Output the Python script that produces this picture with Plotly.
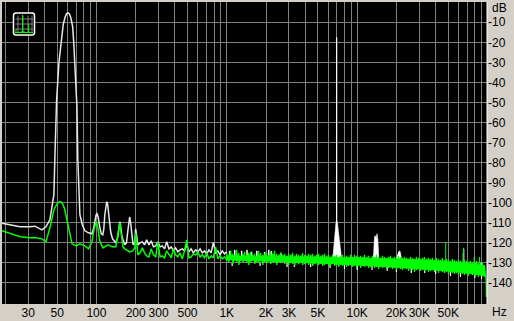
import plotly.graph_objects as go

W, H = 514, 321
L, R, T, B = 2, 487, 2, 304

grid_freqs = [20, 30, 40, 50, 60, 70, 80, 90, 100, 200, 300, 400, 500, 600, 700, 800, 900,
              1000, 2000, 3000, 4000, 5000, 6000, 7000, 8000, 9000,
              10000, 20000, 30000, 40000, 50000, 60000, 70000, 80000, 90000]
freq_labels = {30: "30", 50: "50", 100: "100", 200: "200", 300: "300", 500: "500", 1000: "1K",
               2000: "2K", 3000: "3K", 5000: "5K", 10000: "10K", 20000: "20K", 30000: "30K", 50000: "50K"}
db_ticks = [-10, -20, -30, -40, -50, -60, -70, -80, -90, -100, -110, -120, -130, -140]

low_white_f = [18.9, 21.7, 26, 30.9, 33.8, 38.2, 41, 44, 47.2, 48, 49.5, 51.6, 53.5, 55.7, 57.5, 59, 60.5, 62,
               63.5, 65.7, 67, 68.4, 70.9, 72, 74.7, 78, 81.6, 87, 92.4, 95, 97, 99.5, 101, 103, 106, 109, 112, 114, 116, 118.5, 120,
               122, 125, 129, 133, 141, 146, 149, 151, 153, 157, 165, 170, 175, 178, 180, 183, 187, 191, 197]
low_white_db = [-110.2, -111, -112, -112, -111.7, -113.5, -112, -108.5, -96, -78, -49, -30, -20, -11, -7.5, -5.8, -5.3, -5.8,
                -7.5, -12, -20, -30, -52, -78, -106, -111, -114, -115, -115.5, -113, -109, -106, -105.5, -107, -112, -115.5, -116, -113, -106, -100.5, -99.5,
                -101, -107, -115, -118, -120, -117, -111, -109.5, -111, -117, -121, -120, -113, -107.5, -107, -110, -118, -121, -120]

low_green_f = [18.9, 26, 30.9, 33.8, 38.2, 41, 44, 47.2, 50, 52, 53.5, 55, 57, 60, 62, 65, 70, 74.7, 81.6, 87, 92.4,
               96, 100, 103, 106, 112, 123, 133, 141, 148, 151, 154, 160, 165, 180, 190, 197]
low_green_db = [-114, -117, -117.5, -117.3, -118, -119.5, -112.5, -103.5, -100.5, -99.5, -99.5, -100.5, -103, -110, -115, -120.5, -121.5, -120.5,
                -121.5, -123, -119.5, -113, -109.5, -113, -119, -122.5, -121, -122, -122, -114, -110, -114, -122, -123, -124.5, -124, -122.5]

mid_f = [200, 208, 216, 225, 234, 243, 253, 263, 274, 285, 296, 308, 320, 333, 346, 360, 375, 390, 405, 421,
         438, 456, 474, 493, 513, 533, 554, 577, 600, 624, 649, 675, 702, 730, 759, 789, 821, 854, 888, 923, 960, 1000]
mid_white_db = [-113, -121, -120, -119.5, -121, -118.5, -121, -119, -122, -121.5, -119.5, -122, -121.5, -123, -119.5, -123,
                -122, -124, -122.5, -124.5, -123.5, -123, -124, -121, -124.5, -123, -125, -123.5, -124.5, -123, -125, -124,
                -125.5, -123.5, -125, -119.8, -125, -124, -126, -124, -125.5, -124.5]
mid_green_db = [-115, -126, -125, -122.5, -125, -126.5, -127, -123, -126, -127, -119.5, -127, -126.5, -127.5, -124, -126,
                -127.5, -123, -126, -127, -125, -128, -124, -118.5, -127.5, -127, -125.5, -126, -124.5, -127, -126, -127.5,
                -125, -128, -126.5, -127.5, -122, -128, -126.5, -128, -127, -128.5]

band_f = [1000, 1036, 1073, 1112, 1152, 1193, 1236, 1280, 1326, 1374,
          1423, 1474, 1527, 1582, 1639, 1698, 1759, 1822, 1887, 1955,
          2025, 2098, 2173, 2251, 2332, 2415, 2502, 2592, 2685, 2781,
          2881, 2984, 3092, 3203, 3318, 3437, 3560, 3688, 3820, 3957,
          4100, 4247, 4400, 4558, 4721, 4891, 5066, 5248, 5437, 5632,
          5834, 6044, 6261, 6486, 6718, 6960, 7210, 7469, 7737, 8015,
          8303, 8601, 8910, 9230, 9561, 9904, 10260, 10628, 11010, 11405,
          11815, 12239, 12678, 13134, 13605, 14094, 14600, 15124, 15667, 16230,
          16812, 17416, 18041, 18689, 19360, 20055, 20775, 21521, 22293, 23094,
          23923, 24782, 25671, 26593, 27548, 28537, 29561, 30622, 31722, 32860,
          34040, 35262, 36528, 37839, 39198, 40605, 42063, 43573, 45137, 46757,
          48436, 50175, 51976, 53842, 55775, 57777, 59851, 62000, 64226, 66531,
          68920, 71394, 73957, 76612, 79362, 82211, 85163, 88220, 91387, 94668]
band_hi = [-125, -126, -124, -125.5, -126, -123.5, -125, -126.5, -125.5, -124.5,
           -126, -125, -124.5, -126, -125.5, -126.5, -124, -125, -126, -125.5,
           -125, -126, -124.5, -125.5, -124, -125.5, -126, -125, -126, -125.5,
           -126.5, -125.5, -126, -125, -126.5, -125.5, -126, -126.5, -125, -126,
           -126.5, -125.5, -126, -125.5, -126.5, -126, -125.5, -126.5, -126, -125.5,
           -126.5, -126, -127, -126, -126.5, -126, -127, -126.5, -126, -127,
           -126.5, -127, -126, -127, -126, -126.5, -127, -126.5, -127, -126,
           -127, -126.5, -127.5, -126.5, -127, -126, -127, -127.5, -126.5, -127,
           -127.5, -127, -126.5, -127.5, -127, -127.5, -126.5, -127, -127.5, -127,
           -127.5, -128, -127, -127.5, -128, -127, -127.5, -128, -127.5, -127,
           -128, -127.5, -128, -127.5, -128.5, -127.5, -128, -128.5, -127.5, -128.5,
           -128, -128.5, -129, -128, -128.5, -129, -128.5, -129, -129.5, -128.5,
           -129, -129.5, -129, -130, -129.5, -129, -130, -129.5, -130, -131]
band_lo = [-129, -130, -128.5, -130.5, -129, -129.5, -131, -129, -130, -129,
           -130, -131, -129.5, -129, -130.5, -129.5, -130, -129, -131, -129.5,
           -130, -129, -130.5, -129.5, -130, -131, -129.5, -130, -129.5, -130.5,
           -130, -131, -130, -130.5, -131.5, -130, -130.5, -130, -131, -130.5,
           -130, -131, -130.5, -131.5, -130.5, -130, -131, -130.5, -131.5, -131,
           -130.5, -131.5, -131, -130.5, -131.5, -131, -132, -131, -131.5, -131,
           -132, -131.5, -131, -132, -131.5, -132, -131.5, -132.5, -131.5, -132,
           -131.5, -132.5, -132, -131.5, -132.5, -132, -133, -132, -132.5, -132,
           -133, -132.5, -132, -133, -132.5, -133.5, -132.5, -133, -133.5, -132.5,
           -133, -134, -133, -133.5, -134.5, -133.5, -133, -134, -133.5, -134,
           -133.5, -134.5, -134, -133.5, -134.5, -134, -135, -134, -134.5, -135,
           -134.5, -135.5, -134.5, -135, -135.5, -135, -136, -135, -135.5, -136,
           -135.5, -136.5, -135.5, -136, -136.5, -136, -137, -136, -136.5, -137]

core_f = [1000, 3000, 10000, 30000, 50000, 80000, 94668]
core_hi = [-126.5, -127, -127.5, -128.5, -129.5, -130.5, -131.5]
core_lo = [-128.5, -129.5, -131, -133, -134, -135.5, -136.5]

white_top_f = [1050, 1150, 1300, 1430, 1550, 1700, 1950, 2100, 2200, 2600]
white_top_db = [-124, -123.5, -124, -123.5, -124.5, -124, -124.5, -123.5, -124, -125]
white_bot_f = [1100, 1800, 2900, 3300, 4400, 6200, 8000, 10000, 13000, 17000, 20000, 26000, 33000, 40000, 52000, 62000, 80000, 90000]
white_bot_db = [-131.5, -131.5, -132, -132, -132, -132.5, -133, -133.5, -133.5, -134, -134.5, -135, -135, -135.5, -136.5, -137, -137.5, -138]

hump7k_f = [6500, 6600, 6700, 6800, 6880, 6940, 6980, 7050, 7150, 7300, 7450, 7600]
hump7k_db = [-128, -122, -118, -113, -110, -109, -109, -110, -114, -119, -124, -128]
carrier_f = 6960
carrier_db = -17.5
hump14k_f = [13300, 13450, 13600, 13800, 14000, 14200, 14400, 14660]
hump14k_db = [-128, -118, -117, -116.5, -118, -115.5, -118, -128]
hump21k_f = [20000, 20400, 20800, 21300, 21900]
hump21k_db = [-128, -126, -124.5, -124, -128]

spike_f = [47800, 65500, 79000, 86700]
spike_db = [-119.7, -122.5, -127, -127]
spike_white_f = [65100, 65800]
spike_white_db = [-125, -123]

drop_f = [95000, 96500, 97500, 98000]
drop_db = [-132, -135, -139, -147]

WHITE = "#ffffff"
GREEN = "#00ff00"


def px(x, y):
    return (x - L) / (R - L), (B - y) / (B - T)


fig = go.Figure()


def line(xs, ys, color, w=1.4):
    fig.add_trace(go.Scatter(x=xs, y=ys, mode="lines", line=dict(color=color, width=w), hoverinfo="skip", showlegend=False))


def area(xs, ys, color):
    fig.add_trace(go.Scatter(x=xs, y=ys, mode="lines", fill="toself", fillcolor=color, line=dict(color=color, width=0.6),
                             hoverinfo="skip", showlegend=False))


def whiskers(fs, tops, base, color, w=1):
    xs, ys = [], []
    for f, d in zip(fs, tops):
        xs += [f, f, None]
        ys += [base(f), d, None]
    line(xs, ys, color, w)


line(low_white_f + mid_f, low_white_db + mid_white_db, "#e8e8e8", 1.5)
area(hump7k_f, hump7k_db, WHITE)
line([carrier_f, carrier_f], [-110, carrier_db], WHITE, 1.2)
area(hump14k_f, hump14k_db, WHITE)
area(hump21k_f, hump21k_db, WHITE)
whiskers(spike_white_f, spike_white_db, lambda f: -130, WHITE)
whiskers(white_top_f, white_top_db, lambda f: -127, WHITE, 1.5)
whiskers(white_bot_f, white_bot_db, lambda f: -130, WHITE, 1.2)
line(low_green_f + mid_f, low_green_db + mid_green_db, GREEN, 1.5)
area(core_f + core_f[::-1], core_hi + core_lo[::-1], GREEN)
zig_f, zig_db = [], []
for f, hi, lo in zip(band_f, band_hi, band_lo):
    zig_f += [f, f]
    zig_db += [hi, lo]
line(zig_f, zig_db, GREEN, 1.3)
whiskers(spike_f, spike_db, lambda f: -130, GREEN)
line(drop_f, drop_db, GREEN, 1.2)

shapes = [dict(type="line", xref="paper", yref="paper", x0=1.0, x1=1.0, y0=0, y1=1, line=dict(color=WHITE, width=1))]

# small icon in the upper-left corner
x0, y1 = px(13.5, 13)
x1, y0 = px(34.5, 35)
rx, ry = 2.5 / (R - L), 2.5 / (B - T)
icon = (f"M {x0 + rx} {y1} L {x1 - rx} {y1} Q {x1} {y1} {x1} {y1 - ry} L {x1} {y0 + ry} Q {x1} {y0} {x1 - rx} {y0} "
        f"L {x0 + rx} {y0} Q {x0} {y0} {x0} {y0 + ry} L {x0} {y1 - ry} Q {x0} {y1} {x0 + rx} {y1} Z")
shapes.append(dict(type="path", xref="paper", yref="paper", path=icon, fillcolor="#000000", line=dict(color=WHITE, width=1.5)))
for gx in (18, 23, 28, 32):
    a, b = px(gx, 15.5), px(gx, 33)
    shapes.append(dict(type="line", xref="paper", yref="paper", x0=a[0], y0=a[1], x1=b[0], y1=b[1], line=dict(color="#808080", width=1)))
for gy in (19, 24, 29):
    a, b = px(15.5, gy), px(33, gy)
    shapes.append(dict(type="line", xref="paper", yref="paper", x0=a[0], y0=a[1], x1=b[0], y1=b[1], line=dict(color="#808080", width=1)))
for (sx, top) in ((16, 29), (22.5, 15), (28.7, 24), (21, 31), (24, 31)):
    a, b = px(sx, 32.5), px(sx, top)
    shapes.append(dict(type="line", xref="paper", yref="paper", x0=a[0], y0=a[1], x1=b[0], y1=b[1], line=dict(color=GREEN, width=1)))
a, b = px(15, 32.5), px(33, 32.5)
shapes.append(dict(type="line", xref="paper", yref="paper", x0=a[0], y0=a[1], x1=b[0], y1=b[1], line=dict(color=GREEN, width=1)))

FONT = dict(family="Liberation Sans", size=12, color="#000000")
annotations = [
    dict(text="dB", xref="paper", yref="paper", x=px(490, 0)[0], y=px(0, 8)[1], xanchor="left", yanchor="middle",
         showarrow=False, font=FONT),
    dict(text="Hz", xref="paper", yref="paper", x=px(490, 0)[0], y=px(0, 312)[1], xanchor="left", yanchor="middle",
         showarrow=False, font=FONT),
]

fig.update_layout(
    width=W, height=H, autosize=False,
    margin=dict(l=L, r=W - R, t=T, b=H - B),
    paper_bgcolor="#d4d0c8", plot_bgcolor="#000000",
    showlegend=False, shapes=shapes, annotations=annotations, font=FONT,
    xaxis=dict(type="log", range=[1.2759, 4.996], tickmode="array", tickvals=grid_freqs,
               ticktext=[freq_labels.get(f, "") for f in grid_freqs], showgrid=True, gridcolor="#808080", gridwidth=1,
               zeroline=False, showline=False, ticks="", tickangle=0, tickfont=FONT),
    yaxis=dict(range=[-150.5, 0.1], side="right", tickmode="array", tickvals=db_ticks, ticktext=[str(v) for v in db_ticks],
               showgrid=True, gridcolor="#808080", gridwidth=1, zeroline=False, showline=False, ticks="", tickfont=FONT),
)
fig.write_html("out.html", config=dict(displayModeBar=False),
               post_script="document.body.style.margin='0';document.documentElement.style.overflow='hidden';")
